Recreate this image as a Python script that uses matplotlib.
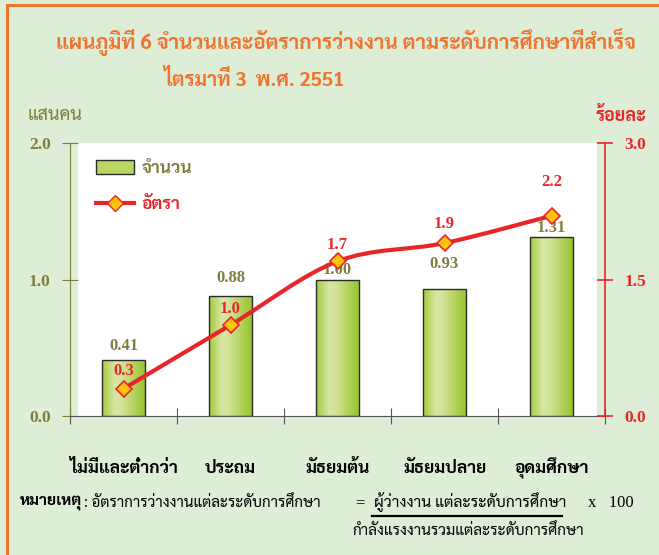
import glob, os
import numpy as np
import matplotlib
matplotlib.use('Agg')
import matplotlib.pyplot as plt
from matplotlib import font_manager as fm
from matplotlib.path import Path
from matplotlib.patches import PathPatch, Rectangle
from matplotlib.colors import LinearSegmentedColormap
from matplotlib.lines import Line2D

# ---------------- data ----------------
categories = ['ไม่มีและต่ำกว่า', 'ประถม', 'มัธยมต้น', 'มัธยมปลาย', 'อุดมศึกษา']
count_values = [0.41, 0.88, 1.00, 0.93, 1.31]      # แสนคน
rate_values = [0.3, 1.0, 1.7, 1.9, 2.2]            # ร้อยละ
left_ticks = [0.0, 1.0, 2.0]
right_ticks = [0.0, 1.5, 3.0]
title_line1 = 'แผนภูมิที่ 6 จำนวนและอัตราการว่างงาน ตามระดับการศึกษาที่สำเร็จ'
title_line2 = 'ไตรมาที่ 3  พ.ศ. 2551'
legend_labels = ['จำนวน', 'อัตรา']

# ---------------- fonts ----------------
for d in ['/usr/share/fonts', '/usr/local/share/fonts', os.path.expanduser('~/.fonts')]:
    for ext in ('ttf', 'otf', 'ttc', 'TTF', 'OTF'):
        for p in glob.glob(os.path.join(d, '**', '*.' + ext), recursive=True):
            try:
                fm.fontManager.addfont(p)
            except Exception:
                pass

SERIF = 'Liberation Serif'
THAI = 'Sarabun'
fam = [THAI, SERIF, 'DejaVu Sans']
plt.rcParams['font.family'] = fam

# ---------------- colours ----------------
BG = '#DDEDD6'
ORANGE = '#EE7430'
OLIVE = '#7E7E3C'
RED = '#E8262A'
GOLD = '#FFC20E'

fig = plt.figure(figsize=(6.59, 5.55), dpi=100, facecolor=BG)
W, H = 659, 555
renderer = fig.canvas.get_renderer()


def fx(px):
    return px / W


def fy(py):
    return 1 - py / H


def fit(t, width_px):
    """scale font size so that the text spans width_px"""
    bb = t.get_window_extent(renderer=renderer)
    t.set_fontsize(t.get_fontsize() * width_px / bb.width)
    return t


# orange frame and white plot area
fig.patches.append(Rectangle((fx(7), fy(800)), 2, 795 / H, transform=fig.transFigure,
                             fill=False, edgecolor=ORANGE, linewidth=2.2, zorder=-4))
fig.patches.append(Rectangle((fx(78), fy(416)), fx(597 - 78), (416 - 143) / H, transform=fig.transFigure,
                             facecolor='white', edgecolor='none', zorder=-5))

ax = fig.add_axes([fx(70), fy(416), fx(605 - 70), (416 - 143) / H])
ax.set_facecolor('none')
ax2 = ax.twinx()
ax2.set_facecolor('none')

x = np.arange(len(categories)) + 0.5
ax.set_xlim(0, len(categories))
ax.set_ylim(0, 2)
ax2.set_ylim(0, 3)

# bars with gradient
bars = ax.bar(x, count_values, width=0.4, facecolor='none', edgecolor='#2b2b2b', linewidth=1.0, zorder=3)
cmap = LinearSegmentedColormap.from_list('g', [(0, '#A3CB3A'), (0.3, '#D8E7A4'), (0.45, '#D3E49A'), (1, '#98C42C')])
grad = np.linspace(0, 1, 256).reshape(1, -1)
for b in bars:
    x0 = b.get_x()
    im = ax.imshow(grad, extent=[x0, x0 + b.get_width(), 0, b.get_height()], cmap=cmap,
                   aspect='auto', zorder=2, interpolation='bicubic')
    im.set_clip_path(b)
ax.set_xlim(0, len(categories))
ax.set_ylim(0, 2)

# bar value labels
bar_label_offsets = [14, 18, 9, 25, 9]
for xi, v, off in zip(x, count_values, bar_label_offsets):
    ax.annotate(f'{v:.2f}', (xi, v), xytext=(0, off * 0.72), textcoords='offset points',
                ha='center', va='center', fontsize=12, fontweight='bold', color=OLIVE,
                family=SERIF, zorder=6)

# smooth rate line (Catmull-Rom through the data points)
pts = np.column_stack([x, rate_values])
ext = np.vstack([pts[0], pts, pts[-1]])
verts = [tuple(pts[0])]
codes = [Path.MOVETO]
for i in range(len(pts) - 1):
    p0, p1, p2, p3 = ext[i], ext[i + 1], ext[i + 2], ext[i + 3]
    c1 = p1 + (p2 - p0) / 6
    c2 = p2 - (p3 - p1) / 6
    verts += [tuple(c1), tuple(c2), tuple(p2)]
    codes += [Path.CURVE4] * 3
ax2.add_patch(PathPatch(Path(verts, codes), fill=False, edgecolor=RED, linewidth=3.0,
                        capstyle='round', zorder=4))
ax2.plot(x, rate_values, linestyle='none', marker='D', markersize=8.5, markerfacecolor=GOLD,
         markeredgecolor=RED, markeredgewidth=1.2, zorder=5)

rate_label_offsets = [18, 16, 16, 19, 34]
for xi, v, off in zip(x, rate_values, rate_label_offsets):
    ax2.annotate(f'{v:.1f}', (xi, v), xytext=(0, off * 0.72), textcoords='offset points',
                 ha='center', va='center', fontsize=12, fontweight='bold', color=RED,
                 family=SERIF, zorder=6)

# spines & ticks
for a in (ax, ax2):
    a.spines['top'].set_visible(False)
ax.spines['left'].set_color(OLIVE)
ax.spines['bottom'].set_color('#555555')
ax.spines['right'].set_visible(False)
ax2.spines['left'].set_visible(False)
ax2.spines['bottom'].set_visible(False)
ax2.spines['right'].set_color(RED)
ax2.spines['right'].set_linewidth(1.2)

ax.set_yticks(left_ticks)
ax.set_yticklabels([f'{t:.1f}' for t in left_ticks], family=SERIF, fontweight='bold', color=OLIVE, fontsize=12.5)
ax.tick_params(axis='y', direction='inout', length=12, color=OLIVE, pad=8)
ax2.set_yticks(right_ticks)
ax2.set_yticklabels([f'{t:.1f}' for t in right_ticks], family=SERIF, fontweight='bold', color=RED, fontsize=12.5)
ax2.tick_params(axis='y', direction='inout', length=12, color=RED, width=1.2, pad=8)

ax.set_xticks(np.arange(len(categories) + 1))
ax.set_xticklabels([])
ax.tick_params(axis='x', which='major', direction='inout', length=12, color='#555555')
ax.set_xticks(x, minor=True)
ax.set_xticklabels(categories, minor=True, fontsize=12.5, color='black', fontweight='bold')
ax.tick_params(axis='x', which='minor', length=0, pad=41)
for lbl in ax.get_xticklabels(minor=True):
    lbl.set_verticalalignment('baseline')

# legend
ax.legend(handles=[Rectangle((0, 0), 1, 1, facecolor='#B9D65E', edgecolor='#2b2b2b', linewidth=1.0),
                   Line2D([], [], color=RED, linewidth=3.0, marker='D', markersize=8,
                          markerfacecolor=GOLD, markeredgecolor=RED)],
          labels=legend_labels, loc='upper left', bbox_to_anchor=(0.032, 0.97),
          frameon=False, borderpad=0, handlelength=2.2, handleheight=0.9, labelspacing=1.1,
          handletextpad=0.45, labelcolor=[OLIVE, RED],
          prop={'family': fam, 'weight': 'bold', 'size': 12.5})

# titles
fit(fig.text(fx(346), fy(42), title_line1, ha='center', va='center', color=ORANGE, fontsize=20,
             fontweight='bold'), 582)
fit(fig.text(fx(254), fy(80), title_line2, ha='center', va='center', color=ORANGE, fontsize=20,
             fontweight='bold'), 182)
fig.text(fx(28), fy(116), 'แสนคน', ha='left', va='center', color=OLIVE, fontsize=13)
fig.text(fx(646), fy(116), 'ร้อยละ', ha='right', va='center', color=RED, fontsize=13, fontweight='bold')

# footnote
fit(fig.text(fx(20), fy(503), 'หมายเหตุ', ha='left', va='center', color='black', fontsize=12,
             fontweight='bold'), 62)
fit(fig.text(fx(84), fy(503), ': อัตราการว่างงานแต่ละระดับการศึกษา', ha='left', va='center',
             color='black', fontsize=12), 236)
fig.text(fx(360), fy(503), '=', ha='center', va='center', color='black', fontsize=12, family=SERIF)
fit(fig.text(fx(374), fy(502), 'ผู้ว่างงาน แต่ละระดับการศึกษา', ha='left', va='center', color='black',
             fontsize=12), 192)
fig.add_artist(Line2D([fx(372), fx(562)], [fy(516), fy(516)], color='black', linewidth=1.6,
                      transform=fig.transFigure))
fig.text(fx(611), fy(503), 'x   100', ha='center', va='center', color='black', fontsize=12, family=SERIF)
fit(fig.text(fx(352), fy(531), 'กำลังแรงงานรวมแต่ละระดับการศึกษา', ha='left', va='center', color='black',
             fontsize=12), 232)

fig.savefig('out.png', dpi=100, facecolor=BG)
